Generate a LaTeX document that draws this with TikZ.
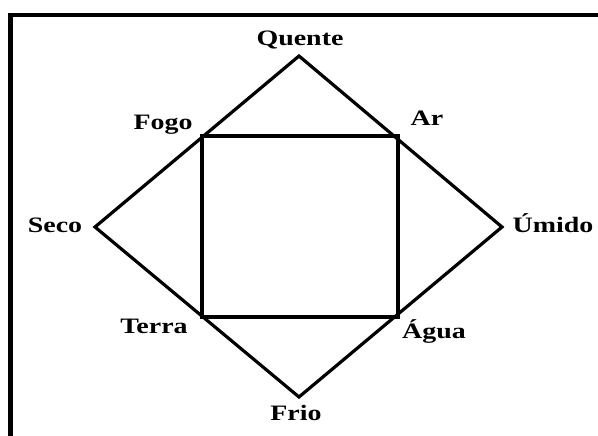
\documentclass[tikz,border=0pt]{standalone}
\usepackage{fontspec}
\newfontfamily\lblfont{Liberation Serif}[FakeStretch=1.27]
\begin{document}
\begin{tikzpicture}[x=1pt,y=-1pt,
  lbl/.style={anchor=base,inner sep=0pt,font=\lblfont\bfseries\fontsize{22pt}{26pt}\selectfont},
  diam/.style={line width=3.2pt,line join=miter},
  sq/.style={line width=4.4pt,line join=miter},
  frame/.style={line width=4.2pt}]
\useasboundingbox (0,0) rectangle (598,436);
% frame (top and left)
\coordinate (fbl) at (10.5,436);
\coordinate (ftl) at (10.5,15);
\coordinate (ftr) at (598,15);
\draw[frame] (fbl) -- (ftl) -- (ftr);
% diamond vertices
\coordinate (Q) at (299,56);
\coordinate (U) at (502,227);
\coordinate (F) at (299,397);
\coordinate (S) at (95,227);
% square corners
\coordinate (Fo) at (202,136);
\coordinate (A) at (398,136);
\coordinate (Ag) at (398,317);
\coordinate (T) at (202,317);
\draw[diam] (Q) -- (U) -- (F) -- (S) -- cycle;
\draw[sq] (Fo) -- (A) -- (Ag) -- (T) -- cycle;
% labels
\node[lbl] (lQ) at (300,46) {Quente};
\node[lbl] (lFo) at (163,130) {Fogo};
\node[lbl] (lA) at (427,126) {Ar};
\node[lbl] (lS) at (55,232) {Seco};
\node[lbl] (lU) at (553,232) {Úmido};
\node[lbl] (lT) at (154,333) {Terra};
\node[lbl] (lAg) at (434,338) {Água};
\node[lbl] (lF) at (296,420) {Frio};
\end{tikzpicture}
\end{document}
